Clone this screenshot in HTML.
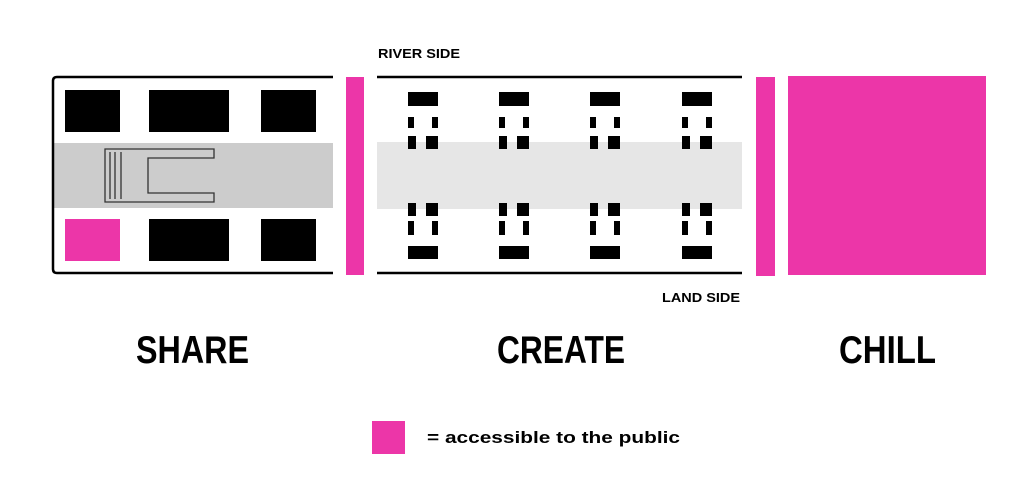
<!DOCTYPE html>
<html><head><meta charset="utf-8"><style>html,body{margin:0;padding:0;background:#fff}svg{display:block}</style></head>
<body>
<svg width="1024" height="497" viewBox="0 0 1024 497" xmlns="http://www.w3.org/2000/svg" font-family="Liberation Sans, sans-serif">
<rect width="1024" height="497" fill="#fff"/>
<!-- SHARE -->
<rect x="54" y="143" width="279" height="65" fill="#cccccc"/>
<path d="M333 77 H57 Q53 77 53 81 V269 Q53 273 57 273 H333" fill="none" stroke="#000" stroke-width="2.5"/>
<rect x="65" y="90" width="55" height="42" fill="#000"/>
<rect x="149" y="90" width="80" height="42" fill="#000"/>
<rect x="261" y="90" width="55" height="42" fill="#000"/>
<rect x="65" y="219" width="55" height="42" fill="#ec36a8"/>
<rect x="149" y="219" width="80" height="42" fill="#000"/>
<rect x="261" y="219" width="55" height="42" fill="#000"/>
<path d="M105 149 H214 V158 H148 V193 H214 V202 H105 Z" fill="none" stroke="#333" stroke-width="1.3"/>
<path d="M110 152 V199 M115 152 V199 M121 152 V199" stroke="#333" stroke-width="1.3"/>
<rect x="346" y="77" width="18" height="198" fill="#ec36a8"/>
<!-- CREATE -->
<rect x="377" y="142" width="365" height="67" fill="#e6e6e6"/>
<line x1="377" y1="77" x2="742" y2="77" stroke="#000" stroke-width="2.5"/>
<line x1="377" y1="273" x2="742" y2="273" stroke="#000" stroke-width="2.5"/>
<g id="u" fill="#000">
<rect x="408" y="92" width="30" height="14"/>
<rect x="408" y="117" width="6" height="11"/>
<rect x="432" y="117" width="6" height="11"/>
<rect x="408" y="136" width="8" height="13"/>
<rect x="426" y="136" width="12" height="13"/>
<rect x="408" y="203" width="8" height="13"/>
<rect x="426" y="203" width="12" height="13"/>
<rect x="408" y="221" width="6" height="14"/>
<rect x="432" y="221" width="6" height="14"/>
<rect x="408" y="246" width="30" height="13"/>
</g>
<use href="#u" x="91"/>
<use href="#u" x="182"/>
<use href="#u" x="274"/>
<rect x="756" y="77" width="19" height="199" fill="#ec36a8"/>
<!-- CHILL -->
<rect x="788" y="76" width="198" height="199" fill="#ec36a8"/>
<!-- labels -->
<text x="378" y="58" font-size="13" font-weight="bold" textLength="82" lengthAdjust="spacingAndGlyphs">RIVER SIDE</text>
<text x="662" y="302" font-size="13" font-weight="bold" textLength="78" lengthAdjust="spacingAndGlyphs">LAND SIDE</text>
<text x="136" y="363" font-size="39" font-weight="bold" textLength="113" lengthAdjust="spacingAndGlyphs">SHARE</text>
<text x="497" y="363" font-size="39" font-weight="bold" textLength="128" lengthAdjust="spacingAndGlyphs">CREATE</text>
<text x="839" y="363" font-size="39" font-weight="bold" textLength="97" lengthAdjust="spacingAndGlyphs">CHILL</text>
<rect x="372" y="421" width="33" height="33" fill="#ec36a8"/>
<text x="427" y="443" font-size="17" font-weight="bold" textLength="253" lengthAdjust="spacingAndGlyphs">= accessible to the public</text>
</svg>
</body></html>
